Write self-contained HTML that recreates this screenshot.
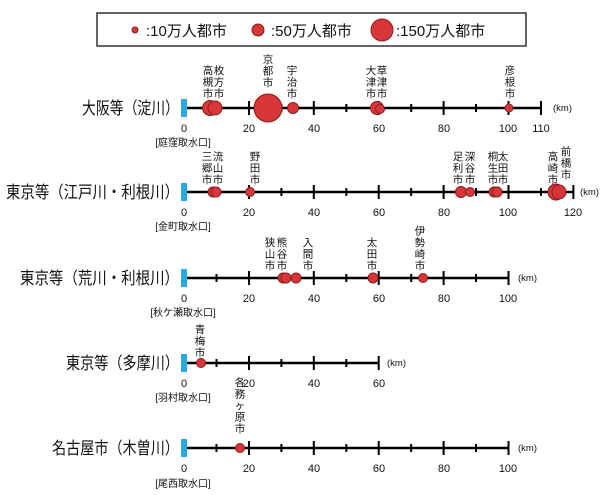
<!DOCTYPE html>
<html><head><meta charset="utf-8"><style>
html,body{margin:0;padding:0;background:#fff}
svg{display:block}
text{font-family:"Liberation Sans","Noto Sans CJK JP",sans-serif;fill:#111}
.v{font-size:10.5px;text-anchor:middle}
.t{font-size:11px;text-anchor:middle}
.r{font-size:17px;text-anchor:end}
.b{font-size:10px;text-anchor:middle}
.km{font-size:9.5px}
.c{fill:#d9363a;stroke:#8a1c1c;stroke-width:1}
.ln{stroke:#000;stroke-width:2.5}
.tk{stroke:#000;stroke-width:2}
</style></head><body>
<svg width="601" height="495" viewBox="0 0 601 495" xmlns="http://www.w3.org/2000/svg">
<rect x="97" y="13" width="429" height="33" fill="#fff" stroke="#333" stroke-width="1.5"/>
<circle class="c" cx="135" cy="30" r="3"/>
<text x="146" y="36" style="font-size:15px">:10万人都市</text>
<circle class="c" cx="258" cy="30" r="6"/>
<text x="271" y="36" style="font-size:15px">:50万人都市</text>
<circle class="c" cx="382" cy="30" r="11"/>
<text x="396" y="36" style="font-size:15px">:150万人都市</text>

<!-- Osaka -->
<text class="r" x="179" y="114" textLength="97" lengthAdjust="spacingAndGlyphs">大阪等（淀川）</text>
<rect x="181" y="99" width="6" height="18" fill="#29a9e0"/>
<line class="ln" x1="187" y1="108" x2="541" y2="108"/>
<g class="tk">
<line x1="216.5" y1="104" x2="216.5" y2="112"/><line x1="249" y1="101" x2="249" y2="115"/>
<line x1="281.4" y1="104" x2="281.4" y2="112"/><line x1="313.8" y1="101" x2="313.8" y2="115"/>
<line x1="346.3" y1="104" x2="346.3" y2="112"/><line x1="378.7" y1="101" x2="378.7" y2="115"/>
<line x1="411.2" y1="104" x2="411.2" y2="112"/><line x1="443.6" y1="101" x2="443.6" y2="115"/>
<line x1="476" y1="104" x2="476" y2="112"/><line x1="508.5" y1="101" x2="508.5" y2="115"/>
<line x1="541" y1="101" x2="541" y2="115"/></g>
<text class="km" x="553" y="111">(km)</text>
<circle class="c" cx="210" cy="108" r="7.5"/><circle class="c" cx="215" cy="108" r="7"/>
<circle class="c" cx="268" cy="108" r="14"/><circle class="c" cx="293" cy="108" r="5.5"/>
<circle class="c" cx="377" cy="108" r="6.5"/><circle class="c" cx="380" cy="109" r="4.5"/>
<circle class="c" cx="509" cy="108" r="4"/>
<text class="v"><tspan x="208" y="74">高</tspan><tspan x="208" y="85.5">槻</tspan><tspan x="208" y="97">市</tspan></text>
<text class="v"><tspan x="219" y="74">枚</tspan><tspan x="219" y="85.5">方</tspan><tspan x="219" y="97">市</tspan></text>
<text class="v"><tspan x="268" y="63">京</tspan><tspan x="268" y="74.5">都</tspan><tspan x="268" y="86">市</tspan></text>
<text class="v"><tspan x="292" y="74">宇</tspan><tspan x="292" y="85.5">治</tspan><tspan x="292" y="97">市</tspan></text>
<text class="v"><tspan x="371" y="74">大</tspan><tspan x="371" y="85.5">津</tspan><tspan x="371" y="97">市</tspan></text>
<text class="v"><tspan x="382" y="74">草</tspan><tspan x="382" y="85.5">津</tspan><tspan x="382" y="97">市</tspan></text>
<text class="v"><tspan x="510" y="74">彦</tspan><tspan x="510" y="85.5">根</tspan><tspan x="510" y="97">市</tspan></text>
<g class="t"><text x="184" y="132">0</text><text x="249" y="132">20</text><text x="314" y="132">40</text><text x="379" y="132">60</text><text x="444" y="132">80</text><text x="508" y="132">100</text><text x="541" y="132">110</text></g>
<text class="b" x="183" y="146">[庭窪取水口]</text>

<!-- Edogawa -->
<text class="r" x="179" y="198" textLength="173" lengthAdjust="spacingAndGlyphs">東京等（江戸川・利根川）</text>
<rect x="181" y="183" width="6" height="18" fill="#29a9e0"/>
<line class="ln" x1="187" y1="192" x2="573" y2="192"/>
<g class="tk">
<line x1="216.5" y1="188" x2="216.5" y2="196"/><line x1="249" y1="185" x2="249" y2="199"/>
<line x1="281.4" y1="188" x2="281.4" y2="196"/><line x1="313.8" y1="185" x2="313.8" y2="199"/>
<line x1="346.3" y1="188" x2="346.3" y2="196"/><line x1="378.7" y1="185" x2="378.7" y2="199"/>
<line x1="411.2" y1="188" x2="411.2" y2="196"/><line x1="443.6" y1="185" x2="443.6" y2="199"/>
<line x1="476" y1="188" x2="476" y2="196"/><line x1="508.5" y1="185" x2="508.5" y2="199"/>
<line x1="541" y1="188" x2="541" y2="196"/><line x1="573.4" y1="185" x2="573.4" y2="199"/></g>
<text class="km" x="580" y="195">(km)</text>
<circle class="c" cx="213" cy="192" r="5"/><circle class="c" cx="216" cy="192" r="5"/>
<circle class="c" cx="250" cy="192" r="4.5"/>
<circle class="c" cx="461" cy="192" r="5.5"/><circle class="c" cx="470" cy="192" r="4.5"/>
<circle class="c" cx="494" cy="192" r="5"/><circle class="c" cx="497" cy="192" r="5"/>
<circle class="c" cx="556" cy="192" r="8"/><circle class="c" cx="559" cy="192" r="7"/>
<text class="v"><tspan x="207" y="160">三</tspan><tspan x="207" y="171.5">郷</tspan><tspan x="207" y="183">市</tspan></text>
<text class="v"><tspan x="218" y="160">流</tspan><tspan x="218" y="171.5">山</tspan><tspan x="218" y="183">市</tspan></text>
<text class="v"><tspan x="255" y="160">野</tspan><tspan x="255" y="171.5">田</tspan><tspan x="255" y="183">市</tspan></text>
<text class="v"><tspan x="458" y="160">足</tspan><tspan x="458" y="171.5">利</tspan><tspan x="458" y="183">市</tspan></text>
<text class="v"><tspan x="470" y="160">深</tspan><tspan x="470" y="171.5">谷</tspan><tspan x="470" y="183">市</tspan></text>
<text class="v"><tspan x="493" y="160">桐</tspan><tspan x="493" y="171.5">生</tspan><tspan x="493" y="183">市</tspan></text>
<text class="v"><tspan x="503" y="160">太</tspan><tspan x="503" y="171.5">田</tspan><tspan x="503" y="183">市</tspan></text>
<text class="v"><tspan x="553" y="160">高</tspan><tspan x="553" y="171.5">崎</tspan><tspan x="553" y="183">市</tspan></text>
<text class="v"><tspan x="566" y="155">前</tspan><tspan x="566" y="166.5">橋</tspan><tspan x="566" y="178">市</tspan></text>
<g class="t"><text x="184" y="216">0</text><text x="249" y="216">20</text><text x="314" y="216">40</text><text x="379" y="216">60</text><text x="444" y="216">80</text><text x="508" y="216">100</text><text x="573" y="216">120</text></g>
<text class="b" x="183" y="230">[金町取水口]</text>

<!-- Arakawa -->
<text class="r" x="179" y="284" textLength="159" lengthAdjust="spacingAndGlyphs">東京等（荒川・利根川）</text>
<rect x="181" y="269" width="6" height="18" fill="#29a9e0"/>
<line class="ln" x1="187" y1="278" x2="508.5" y2="278"/>
<g class="tk">
<line x1="216.5" y1="274" x2="216.5" y2="282"/><line x1="249" y1="271" x2="249" y2="285"/>
<line x1="281.4" y1="274" x2="281.4" y2="282"/><line x1="313.8" y1="271" x2="313.8" y2="285"/>
<line x1="346.3" y1="274" x2="346.3" y2="282"/><line x1="378.7" y1="271" x2="378.7" y2="285"/>
<line x1="411.2" y1="274" x2="411.2" y2="282"/><line x1="443.6" y1="271" x2="443.6" y2="285"/>
<line x1="476" y1="274" x2="476" y2="282"/><line x1="508.5" y1="271" x2="508.5" y2="285"/></g>
<text class="km" x="518" y="281">(km)</text>
<circle class="c" cx="283" cy="278" r="5"/><circle class="c" cx="286" cy="278" r="5"/>
<circle class="c" cx="296" cy="278" r="5"/><circle class="c" cx="373" cy="278" r="5"/>
<circle class="c" cx="423" cy="278" r="4.5"/>
<text class="v"><tspan x="270" y="246">狭</tspan><tspan x="270" y="257.5">山</tspan><tspan x="270" y="269">市</tspan></text>
<text class="v"><tspan x="282" y="246">熊</tspan><tspan x="282" y="257.5">谷</tspan><tspan x="282" y="269">市</tspan></text>
<text class="v"><tspan x="308" y="246">入</tspan><tspan x="308" y="257.5">間</tspan><tspan x="308" y="269">市</tspan></text>
<text class="v"><tspan x="372" y="246">太</tspan><tspan x="372" y="257.5">田</tspan><tspan x="372" y="269">市</tspan></text>
<text class="v"><tspan x="420" y="234.5">伊</tspan><tspan x="420" y="246">勢</tspan><tspan x="420" y="257.5">崎</tspan><tspan x="420" y="269">市</tspan></text>
<g class="t"><text x="184" y="302">0</text><text x="249" y="302">20</text><text x="314" y="302">40</text><text x="379" y="302">60</text><text x="444" y="302">80</text><text x="508" y="302">100</text></g>
<text class="b" x="183" y="316">[秋ケ瀬取水口]</text>

<!-- Tama -->
<text class="r" x="179" y="369" textLength="113" lengthAdjust="spacingAndGlyphs">東京等（多摩川）</text>
<rect x="181" y="354" width="6" height="18" fill="#29a9e0"/>
<line class="ln" x1="187" y1="363" x2="378.7" y2="363"/>
<g class="tk">
<line x1="216.5" y1="359" x2="216.5" y2="367"/><line x1="249" y1="356" x2="249" y2="370"/>
<line x1="281.4" y1="359" x2="281.4" y2="367"/><line x1="313.8" y1="356" x2="313.8" y2="370"/>
<line x1="346.3" y1="359" x2="346.3" y2="367"/><line x1="378.7" y1="356" x2="378.7" y2="370"/></g>
<text class="km" x="387" y="366">(km)</text>
<circle class="c" cx="201" cy="363" r="4.5"/>
<text class="v"><tspan x="200" y="333">青</tspan><tspan x="200" y="344.5">梅</tspan><tspan x="200" y="356">市</tspan></text>
<g class="t"><text x="184" y="387">0</text><text x="249" y="387">20</text><text x="314" y="387">40</text><text x="379" y="387">60</text></g>
<text class="b" x="183" y="401">[羽村取水口]</text>

<!-- Kiso -->
<text class="r" x="179" y="454" textLength="127" lengthAdjust="spacingAndGlyphs">名古屋市（木曽川）</text>
<rect x="181" y="439" width="6" height="18" fill="#29a9e0"/>
<line class="ln" x1="187" y1="448" x2="508.5" y2="448"/>
<g class="tk">
<line x1="216.5" y1="444" x2="216.5" y2="452"/><line x1="249" y1="441" x2="249" y2="455"/>
<line x1="281.4" y1="444" x2="281.4" y2="452"/><line x1="313.8" y1="441" x2="313.8" y2="455"/>
<line x1="346.3" y1="444" x2="346.3" y2="452"/><line x1="378.7" y1="441" x2="378.7" y2="455"/>
<line x1="411.2" y1="444" x2="411.2" y2="452"/><line x1="443.6" y1="441" x2="443.6" y2="455"/>
<line x1="476" y1="444" x2="476" y2="452"/><line x1="508.5" y1="441" x2="508.5" y2="455"/></g>
<text class="km" x="518" y="451">(km)</text>
<circle class="c" cx="240" cy="448" r="4.5"/>
<text class="v"><tspan x="240" y="386">各</tspan><tspan x="240" y="397.5">務</tspan><tspan x="240" y="409">ヶ</tspan><tspan x="240" y="420.5">原</tspan><tspan x="240" y="432">市</tspan></text>
<g class="t"><text x="184" y="472">0</text><text x="249" y="472">20</text><text x="314" y="472">40</text><text x="379" y="472">60</text><text x="444" y="472">80</text><text x="508" y="472">100</text></g>
<text class="b" x="183" y="487">[尾西取水口]</text>
</svg>
</body></html>
